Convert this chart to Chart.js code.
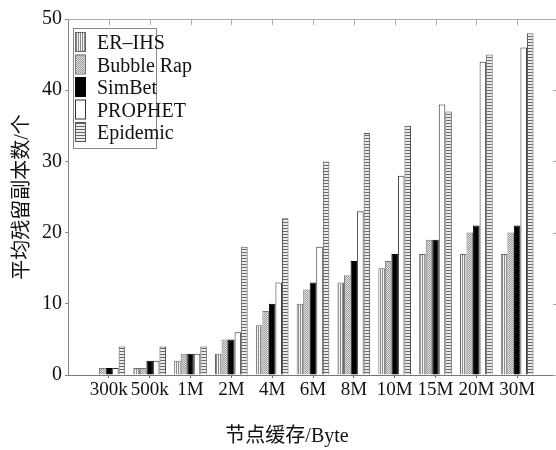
<!DOCTYPE html>
<html>
<head>
<meta charset="utf-8">
<script src="https://cdn.jsdelivr.net/npm/chart.js@4.4.1/dist/chart.umd.min.js"></script>
<style>
    html, body { margin: 0; padding: 0; background: #fff; overflow: hidden; }
    #wrap { width: 562px; height: 450px; }
</style>
</head>
<body>
<div id="wrap"><canvas id="chart" width="562" height="450"></canvas></div>
<script>
// categories (node buffer size)
const bufferLabels = ["300k", "500k", "1M", "2M", "4M", "6M", "8M", "10M", "15M", "20M", "30M"];

// series values (average residual copies)
const erIhs    = [0, 1, 2, 3, 7, 10, 13, 15, 17, 17, 17];
const bubbleRap = [1, 1, 3, 5, 9, 12, 14, 16, 19, 20, 20];
const simBet   = [1, 2, 3, 5, 10, 13, 16, 17, 19, 21, 21];
const prophet  = [1, 2, 3, 6, 13, 18, 23, 28, 38, 44, 46];
const epidemic = [4, 4, 4, 18, 22, 30, 34, 35, 37, 45, 48];

const yTicks = [0, 10, 20, 30, 40, 50];

const FONT = "'Liberation Serif', 'Times New Roman', 'Noto Sans CJK SC', serif";

// fill patterns
function makePattern(w, h, paint){
    let c = document.createElement("canvas");
    c.width = w; c.height = h;
    let g = c.getContext("2d");
    paint(g);
    return document.getElementById("chart").getContext("2d").createPattern(c, "repeat");
}
let vertPat = makePattern(2, 2, g => {
    g.fillStyle = "#f4f4f4"; g.fillRect(0, 0, 2, 2);
    g.fillStyle = "#8a8a8a"; g.fillRect(0, 0, 1, 2);
});
let dotPat = makePattern(2, 2, g => {
    g.fillStyle = "#e2e2e2"; g.fillRect(0, 0, 2, 2);
    g.fillStyle = "#9a9a9a"; g.fillRect(0, 0, 1, 1); g.fillRect(1, 1, 1, 1);
});
let horPat = makePattern(3, 3, g => {
    g.fillStyle = "#ececec"; g.fillRect(0, 0, 3, 3);
    g.fillStyle = "#666"; g.fillRect(0, 0, 3, 1);
});

function toPoints(arr){
    return arr.map((v, i) => ({x: i + 1, y: v}));
}

function makeSet(name, values, fill, border){
    return {
        label: name,
        data: toPoints(values),
        backgroundColor: fill,
        borderColor: border,
        borderWidth: 1,
        categoryPercentage: 0.8,
        barPercentage: 1.0
    };
}

// frame, mirrored ticks, x title and in-plot legend
const framePlugin = {
    id: "frame",
    afterDraw(chart){
        let ctx = chart.ctx;
        let a = chart.chartArea;
        let xs = chart.scales.x;
        let ys = chart.scales.y;
        ctx.save();
        ctx.strokeStyle = "#aaa";
        ctx.lineWidth = 1;
        ctx.beginPath();
        ctx.moveTo(a.left, a.top + 0.5); ctx.lineTo(a.right, a.top + 0.5);
        ctx.moveTo(a.right - 0.5, a.top); ctx.lineTo(a.right - 0.5, a.bottom);
        for(let i = 1; i <= bufferLabels.length; i++){
            let px = Math.round(xs.getPixelForValue(i)) + 0.5;
            ctx.moveTo(px, a.top); ctx.lineTo(px, a.top + 6);
        }
        for(let t of yTicks){
            let py = Math.round(ys.getPixelForValue(t)) + 0.5;
            ctx.moveTo(a.right, py); ctx.lineTo(a.right - 5, py);
        }
        ctx.stroke();

        // x axis title
        ctx.font = "20px " + FONT;
        ctx.fillStyle = "#111";
        ctx.textAlign = "center";
        ctx.textBaseline = "middle";
        ctx.fillText("节点缓存/Byte", 287, 437);

        // legend
        let lx = 73, ly = 28;
        ctx.textAlign = "left";
        ctx.strokeStyle = "#888";
        ctx.strokeRect(lx + 0.5, ly + 0.5, 83, 120);
        chart.data.datasets.forEach((ds, i) => {
            let sy = ly + 4 + i * 22.5;
            ctx.fillStyle = ds.backgroundColor;
            ctx.fillRect(lx + 2, sy, 10, 19);
            ctx.strokeStyle = ds.borderColor;
            ctx.strokeRect(lx + 2.5, sy + 0.5, 10, 19);
            ctx.fillStyle = "#111";
            ctx.fillText(ds.label, lx + 24, sy + 12);
        });
        ctx.restore();
    }
};

let context = document.getElementById("chart").getContext("2d");
let chart = new Chart(context, {
    type: "bar",
    data: {
        datasets: [
            makeSet("ER\u2013IHS", erIhs, vertPat, "#666"),
            makeSet("Bubble Rap", bubbleRap, dotPat, "#777"),
            makeSet("SimBet", simBet, "#000", "#000"),
            makeSet("PROPHET", prophet, "#fff", "#333"),
            makeSet("Epidemic", epidemic, horPat, "#555")
        ]
    },
    plugins: [framePlugin],
    options: {
        responsive: false,
        animation: false,
        layout: { padding: { left: 0, right: 4, top: 19, bottom: 0 } },
        plugins: {
            legend: { display: false },
            tooltip: { enabled: false }
        },
        scales: {
            x: {
                type: "linear",
                offset: false,
                min: 0,
                max: 12,
                afterFit(s){ s.height = 75; },
                afterBuildTicks(s){
                    s.ticks = bufferLabels.map((l, i) => ({value: i + 1}));
                },
                ticks: {
                    stepSize: 1,
                    autoSkip: false,
                    maxRotation: 0,
                    padding: 1,
                    color: "#111",
                    font: { family: FONT, size: 19 },
                    callback: v => bufferLabels[v - 1] || ""
                },
                grid: { display: true, offset: false, drawOnChartArea: false, tickLength: 3, color: "#666" },
                border: { color: "#777" },
                title: { display: false }
            },
            y: {
                min: 0,
                max: 50,
                afterFit(s){ s.width = 68; },
                afterBuildTicks(s){
                    s.ticks = yTicks.map(v => ({value: v}));
                },
                ticks: {
                    padding: 3,
                    color: "#111",
                    font: { family: FONT, size: 20 }
                },
                grid: { display: true, drawOnChartArea: false, tickLength: 3, color: "#888" },
                border: { color: "#888" },
                title: {
                    display: true,
                    text: "平均残留副本数/个",
                    color: "#111",
                    font: { family: FONT, size: 20 },
                    padding: { top: 11, bottom: 0 }
                }
            }
        }
    }
});
</script>
</body>
</html>
